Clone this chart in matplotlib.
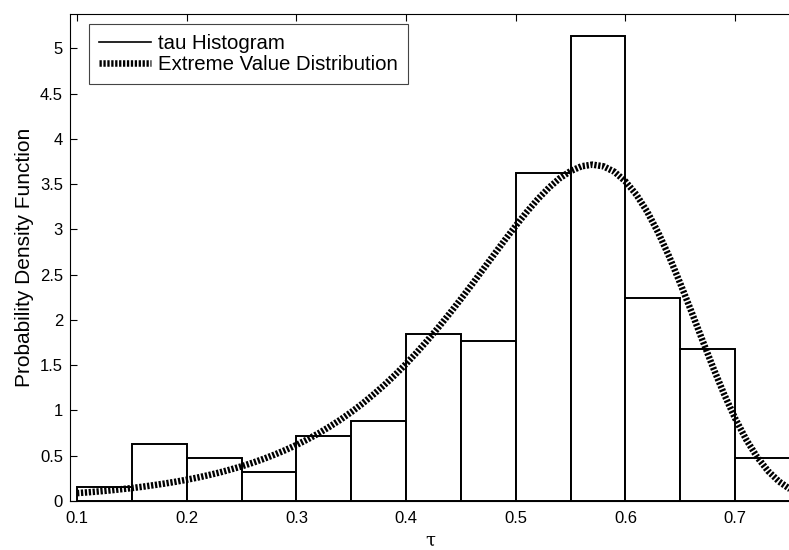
import matplotlib
matplotlib.use("Agg")
import matplotlib.pyplot as plt
import numpy as np

plt.rcParams['font.family'] = ['Liberation Sans', 'DejaVu Sans']

# Histogram (bin edges and density heights)
bin_edges = [0.10, 0.15, 0.20, 0.25, 0.30, 0.35, 0.40, 0.45, 0.50, 0.55, 0.60, 0.65, 0.70, 0.75]
bin_heights = [0.15, 0.63, 0.48, 0.32, 0.72, 0.88, 1.84, 1.77, 3.62, 5.14, 2.24, 1.68, 0.48]

# Extreme value distribution curve (read values)
curve_x = [0.10, 0.11, 0.12, 0.13, 0.14, 0.15, 0.16, 0.17, 0.18, 0.19,
           0.20, 0.21, 0.22, 0.23, 0.24, 0.25, 0.26, 0.27, 0.28, 0.29,
           0.30, 0.31, 0.32, 0.33, 0.34, 0.35, 0.36, 0.37, 0.38, 0.39,
           0.40, 0.41, 0.42, 0.43, 0.44, 0.45, 0.46, 0.47, 0.48, 0.49,
           0.50, 0.51, 0.52, 0.53, 0.54, 0.55, 0.56, 0.57, 0.58, 0.59,
           0.60, 0.61, 0.62, 0.63, 0.64, 0.65, 0.66, 0.67, 0.68, 0.69,
           0.70, 0.71, 0.72, 0.73, 0.74, 0.75]
curve_y = [0.087, 0.096, 0.106, 0.117, 0.130, 0.143, 0.158, 0.175, 0.193, 0.213,
           0.235, 0.259, 0.286, 0.315, 0.348, 0.383, 0.422, 0.465, 0.512, 0.563,
           0.619, 0.680, 0.746, 0.819, 0.897, 0.982, 1.074, 1.174, 1.280, 1.394,
           1.516, 1.645, 1.782, 1.926, 2.076, 2.232, 2.392, 2.556, 2.720, 2.883,
           3.041, 3.193, 3.334, 3.459, 3.565, 3.645, 3.698, 3.716, 3.697, 3.636,
           3.530, 3.383, 3.192, 2.961, 2.696, 2.402, 2.096, 1.781, 1.471, 1.178,
           0.912, 0.680, 0.486, 0.331, 0.215, 0.131]

xticks = [0.1, 0.2, 0.3, 0.4, 0.5, 0.6, 0.7]
xtick_labels = ['0.1', '0.2', '0.3', '0.4', '0.5', '0.6', '0.7']
yticks = [0, 0.5, 1, 1.5, 2, 2.5, 3, 3.5, 4, 4.5, 5]
ytick_labels = ['0', '0.5', '1', '1.5', '2', '2.5', '3', '3.5', '4', '4.5', '5']

fig = plt.figure(figsize=(7.89, 5.50), dpi=100)
ax = fig.add_axes([70/789, 49/550, 721/789, 487/550])

lefts = bin_edges[:-1]
widths = np.diff(bin_edges)
ax.bar(lefts, bin_heights, width=widths, align='edge', facecolor='white',
       edgecolor='black', linewidth=1.4, zorder=2)
ax.plot([], [], color='black', lw=1.2, label='tau Histogram')
ax.plot(curve_x, curve_y, color='black', lw=4.7, linestyle=(0, (0.35, 0.25)),
        dash_capstyle='butt', solid_capstyle='butt', zorder=3,
        label='Extreme Value Distribution')

ax.set_xlim(0.0936, 0.7509)
ax.set_ylim(0, 5.38)
ax.set_xticks(xticks)
ax.set_xticklabels(xtick_labels)
ax.set_yticks(yticks)
ax.set_yticklabels(ytick_labels)
ax.tick_params(direction='in', top=True, right=False, labelsize=12, length=5, width=0.8)
ax.tick_params(axis='x', pad=7)
ax.tick_params(axis='y', pad=5)
for s in ax.spines.values():
    s.set_linewidth(0.8)

ax.set_xlabel('τ', fontsize=13, family=['DejaVu Serif'], labelpad=4)
ax.set_ylabel('Probability Density Function', fontsize=15, labelpad=4)

leg = ax.legend(loc='upper left', bbox_to_anchor=(19/721, 477/487), fontsize=14.7,
                fancybox=False, framealpha=1, edgecolor='#444444',
                borderpad=0.5, handlelength=2.55, handletextpad=0.35, labelspacing=0.1,
                borderaxespad=0)
leg.get_frame().set_linewidth(0.8)

fig.savefig('out.png', dpi=100)
